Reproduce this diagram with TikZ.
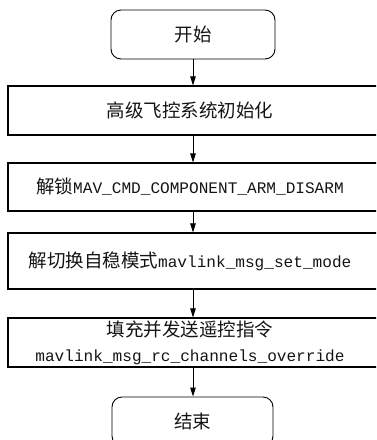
\documentclass[tikz,border=0pt]{standalone}
\usepackage{fontspec}
\newfontfamily\cjk{Noto Sans CJK SC}
\newfontfamily\mono{Liberation Mono}
\newcommand{\mt}[1]{{\fontsize{16.1}{25}\selectfont\mono #1}}
\usetikzlibrary{arrows.meta}
\begin{document}
\begin{tikzpicture}[x=1pt,y=-1pt,
  every node/.style={font=\fontsize{18.5}{25}\selectfont\cjk, text=black!92, inner sep=0pt},
  termbox/.style={draw, line width=0.9pt, rounded corners=10pt, minimum width=164pt, minimum height=49pt},
  procbox/.style={draw, line width=1.1pt, minimum width=372pt},
  flow/.style={line width=0.9pt, -{Triangle[length=9pt,width=5.5pt]}}]
\useasboundingbox (0,0) rectangle (376,440);
\clip (0,0) rectangle (376,440);
\node[termbox] (start) at (193,34.5) {开始};
\node[procbox, minimum height=49pt] (init) at (194,110.5) {\hspace*{-8pt}高级飞控系统初始化};
\node[procbox, minimum height=48pt] (arm) at (194,187) {\hspace*{-8pt}解锁\mt{MAV\_CMD\_COMPONENT\_ARM\_DISARM}};
\node[procbox, minimum height=56pt] (mode) at (194,261) {\hspace*{-8pt}解切换自稳模式\mt{mavlink\_msg\_set\_mode}};
\node[procbox, minimum height=49pt, align=center] (rc) at (194,342.5) {\hspace*{-8pt}填充并发送遥控指令\\\hspace*{-8pt}\mt{mavlink\_msg\_rc\_channels\_override}};
\node[termbox, minimum width=161pt] (stop) at (192.5,421.5) {结束};
\draw[flow] (start.south) -- (start.south |- init.north);
\draw[flow] (start.south |- init.south) -- (start.south |- arm.north);
\draw[flow] (start.south |- arm.south) -- (start.south |- mode.north);
\draw[flow] (start.south |- mode.south) -- (start.south |- rc.north);
\draw[flow] (start.south |- rc.south) -- (start.south |- stop.north);
\end{tikzpicture}
\end{document}
